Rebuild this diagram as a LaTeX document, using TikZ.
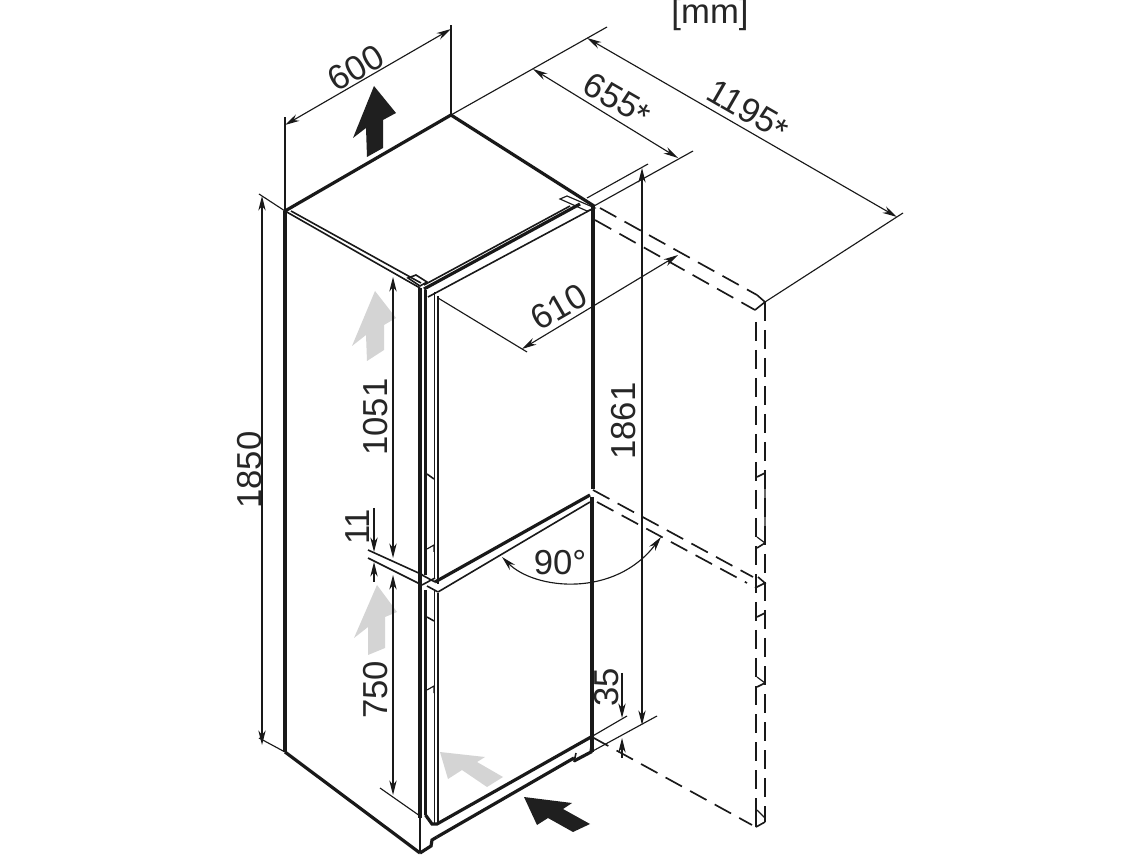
\documentclass[tikz,border=0pt]{standalone}
\usepackage{fontspec}
\setmainfont{Liberation Sans}
\usetikzlibrary{arrows.meta}
\tikzset{
 dimline/.style={line width=0.85pt,black!90,{Stealth[length=11pt,width=5.5pt]}-{Stealth[length=11pt,width=5.5pt]}},
 onetip/.style={line width=0.85pt,black!90,-{Stealth[length=11pt,width=5.5pt]}},
 thinl/.style={line width=0.85pt,black!90},
 medl/.style={line width=1.2pt,black!90},
 thickl/.style={line width=2.4pt,black!90},
 dashl/.style={line width=1.25pt,black!90,dash pattern=on 14pt off 7pt},
 labeltxt/.style={font=\fontsize{26}{28}\selectfont,inner sep=0pt,text=black!85},
 blackarrow/.style={fill=black!88,draw=none},
 greyarrow/.style={fill=black!17,draw=none},
}
\newcommand{\starmark}{\raisebox{-2pt}{\fontsize{26}{26}\selectfont*}}
\begin{document}
\begin{tikzpicture}[x=0.75pt,y=-0.75pt]
\useasboundingbox[fill=white] (0,0) rectangle (1140,855);
% filled arrows
\fill[blackarrow] (374,86)--(396,113)--(383,120)--(383,148)--(367,157)--(366,128)--(353,138)--cycle;
\fill[greyarrow] (375,291)--(396,318)--(384,325)--(384,350)--(367,361)--(366,335)--(352,346)--cycle;
\fill[greyarrow] (377,585)--(397,612)--(385,617)--(385,648)--(368,655)--(368,627)--(354,638)--cycle;
\fill[greyarrow] (440,752)--(485,757)--(477,762)--(503,777)--(487,787)--(462,770)--(448,779)--cycle;
\fill[blackarrow] (524,797)--(572,803)--(563,809)--(590,824)--(573,832)--(548,818)--(537,825)--cycle;
% cabinet
\draw[thickl] (285,211)--(451,115)--(594,206);
\draw[thickl] (285,211)--(285,752);
\draw[thickl] (285,752)--(420,853);
\draw[medl] (285,211)--(420,288);
\draw[medl] (291,211)--(421,283);
\draw[thickl] (424,289)--(580,204);
\draw[medl] (424,285)--(570,206);
\draw[medl] (428,297)--(594,208);
\draw[thickl] (593,206)--(593,489);
\draw[thickl] (592,497)--(592,752);
% door verticals
\draw[thickl] (420,288)--(420,818);
\draw[medl] (420,818)--(420,853);
\draw[line width=1.8pt,black!90] (425.5,290)--(425.5,575) (425.5,590)--(425.5,815);
\draw[medl] (434.5,292)--(434.5,578) (434.5,590)--(434.5,825);
\draw[medl] (438,296)--(438,584) (438,593)--(438,825);
% handles
\draw[medl] (427,474)--(434,479) (427,617)--(434,621);
\draw[thinl] (427,549)--(434,545)--(434,552) (427,690)--(434,686)--(434,693);
% hinges
\draw[medl] (408,278)--(416,275)--(427,282)--(420,286)--cycle;
\draw[thinl] (560,199)--(567,196)--(595,208)--(587,211)--cycle;
% middle gap
\draw[thickl] (435,582)--(590,495);
\draw[medl] (438,592)--(590,502);
\draw[medl] (368,550)--(423,575);
\draw[medl] (368,558)--(422,585);
\draw[medl] (427,586)--(438,592) (422,575)--(435,582);
\draw[medl] (422,585)--(435,578);
% bottom
\draw[thickl] (425.5,815) -- (432,824) -- (437,824) -- (591,737);
\draw[thickl] (437,837)--(574,758);
\draw[thickl] (574,761)--(591,752)--(592,745);
\draw[medl] (576,753)--(574,762);
\draw[thickl] (420,853)--(431,846)--(432,840)--(437,837);
% dimension 600
\coordinate (e1) at (285,117); \coordinate (e2) at (451,25);
\draw[thinl] (285,211)--(e1) (451,115)--(e2);
\coordinate (d1) at (285,125); \coordinate (d2) at (451,29);
\draw[dimline] (d1)--(d2);
\node[labeltxt,rotate=30] (t600) at (356,68) {600};
% back extension
\coordinate (b1) at (607,27);
\draw[thinl] (451,115)--(b1);
\coordinate (d3) at (533,69); \coordinate (d4) at (678,158);
\draw[dimline] (d3)--(d4);
\node[labeltxt,rotate=-30] (t655) at (617,100) {655\starmark};
\coordinate (x1) at (693,151);
\draw[thinl] (594,206)--(x1);
\coordinate (d5) at (587,38); \coordinate (d6) at (897,217);
\draw[dimline] (d5)--(d6);
\node[labeltxt,rotate=-30] (t1195) at (748,111) {1195\starmark};
\coordinate (x2) at (765,302); \coordinate (x3) at (903,213);
\draw[thinl] (x2)--(x3);
% mm
\node[labeltxt] (tmm) at (710,15) {[mm]};
% dashed door
\draw[dashl] (600,208)--(757,295);
\draw[dashl] (595,220)--(755,310);
\draw[medl] (755,310)--(765,302)--(757,295);
\draw[dashl] (765,302)--(765,822);
\draw[dashl] (756,322)--(756,827);
\draw[medl] (756,827)--(765,822) (756,810)--(756,827);
\draw[dashl] (593,490)--(753,577);
\draw[dashl] (597,502)--(747,583);
\draw[medl] (755,588)--(765,583)--(758,577);
\draw[dashl] (592,737)--(752,825);
\draw[medl] (757,477)--(765,473) (757,548)--(765,543) (757,617)--(765,613) (757,687)--(765,683);
\draw[thinl] (765,473)--(765,543) (757,537)--(765,543) (757,677)--(765,683) (757,810)--(765,818);
% 610
\coordinate (f1) at (522,349);
\coordinate (f2) at (678,255);
\draw[thinl] (438,298)--(527,352);
\draw[dimline] (f1)--(f2);
\node[labeltxt,rotate=30] (t610) at (559,307) {610};
% 1861
\coordinate (g1) at (587,198); \coordinate (g2) at (648,164);
\draw[thinl] (g1)--(g2);
\coordinate (g3) at (591,752); \coordinate (g4) at (657,716);
\draw[thinl] (g3)--(g4);
\coordinate (g5) at (642,168); \coordinate (g6) at (642,725);
\draw[dimline] (g5)--(g6);
\node[labeltxt,rotate=90] (t1861) at (624,421) {1861};
% 35
\coordinate (h1) at (591,737); \coordinate (h2) at (627,716);
\draw[thinl] (h1)--(h2);
\coordinate (h3) at (622,673); \coordinate (h4) at (622,718);
\draw[onetip] (h3)--(h4);
\coordinate (h5) at (622,758); \coordinate (h6) at (622,738);
\draw[onetip] (h5)--(h6);
\node[labeltxt,rotate=90] (t35) at (607,687) {35};
% 1051 750
\coordinate (k1) at (393,277); \coordinate (k2) at (393,558);
\draw[dimline] (k1)--(k2);
\coordinate (k3) at (393,575); \coordinate (k4) at (393,795);
\draw[dimline] (k3)--(k4);
\coordinate (k5) at (380,788); \coordinate (k6) at (420,816);
\draw[thinl] (k5)--(k6);
\node[labeltxt,rotate=90] (t1051) at (376,417) {1051};
\node[labeltxt,rotate=90] (t750) at (376,690) {750};
% 11
\coordinate (m1) at (374,508); \coordinate (m2) at (374,552);
\draw[onetip] (m1)--(m2);
\coordinate (m3) at (374,582); \coordinate (m4) at (374,562);
\draw[onetip] (m3)--(m4);
\node[labeltxt,rotate=90] (t11) at (358,527) {11};
% 1850
\coordinate (n1) at (262,196); \coordinate (n2) at (262,745);
\draw[dimline] (n1)--(n2);
\draw[thinl] (259,194)--(285,211) (259,738)--(285,752);
\node[labeltxt,rotate=90] (t1850) at (250,470) {1850};
% 90
\coordinate (p1) at (502,557); \coordinate (p2) at (661,537);
\draw[dimline] (p1) .. controls (535,590) and (615,598) .. (p2);
\node[labeltxt] (t90) at (560,563) {90°};
\end{tikzpicture}
\end{document}
